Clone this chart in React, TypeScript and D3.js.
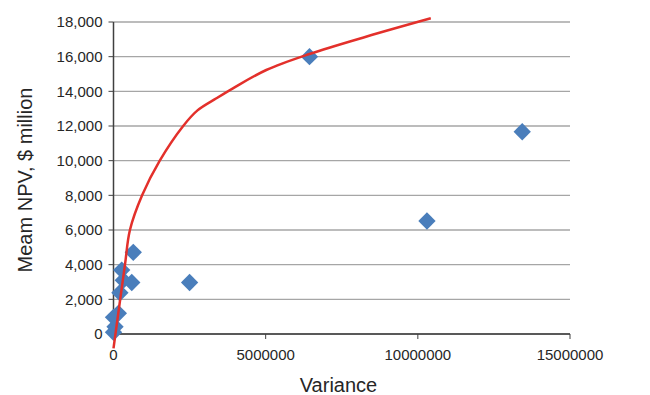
import React from "react";
import * as d3 from "d3";

const pointVariance = [0, 50000, 0, 160000, 210000, 320000, 600000, 270000, 650000, 2500000, 6440000, 10300000, 13430000];
const pointNpv = [100, 420, 960, 1190, 2380, 3100, 2970, 3690, 4710, 2970, 16000, 6520, 11670];

const curveVariance = [0, 377000, 540000, 940000, 1520000, 2290000, 2760000, 3381000, 3925000, 5020000, 6438000, 8296000, 10426000];
const curveNpv = [-825, 4000, 6000, 8000, 10000, 12000, 12900, 13598, 14175, 15231, 16154, 17152, 18214];

const yTicks = [0, 2000, 4000, 6000, 8000, 10000, 12000, 14000, 16000, 18000];
const xTicks = [0, 5000000, 10000000, 15000000];

const W = 650;
const H = 395;
const left = 113.5;
const right = 570;
const top = 22;
const bottom = 334;

export default function App() {
  const x = d3.scaleLinear().domain([0, 15000000]).range([left, right]);
  const y = d3.scaleLinear().domain([0, 18000]).range([bottom, top]);
  const fmtY = d3.format(",");
  const fmtX = (v: number) => String(v);

  const curvePts = curveVariance.map((v, i) => [v, curveNpv[i]] as [number, number]);
  const line = d3
    .line<[number, number]>()
    .x((d) => x(d[0]))
    .y((d) => y(d[1]))
    .curve(d3.curveCatmullRom.alpha(0.5));

  const diamond = d3.symbol().type(d3.symbolSquare).size(150)();

  const font = "'Liberation Sans', Arial, sans-serif";

  return (
    <svg width={W} height={H} style={{ position: "absolute", left: 0, top: 0, background: "#fff" }} fontFamily={font}>
      {yTicks.map((t) => (
        <g key={"gy" + t}>
          {t > 0 && <line x1={left} x2={right} y1={y(t)} y2={y(t)} stroke="#a6a6a6" strokeWidth={1.3} />}
          <line x1={left - 5} x2={left} y1={y(t)} y2={y(t)} stroke="#404040" strokeWidth={1} />
          <text x={left - 11} y={y(t)} dy="0.35em" textAnchor="end" fontSize={15} fill="#262626">
            {fmtY(t)}
          </text>
        </g>
      ))}
      <line x1={left} x2={left} y1={top} y2={bottom} stroke="#404040" strokeWidth={1.5} />
      <line x1={left} x2={right} y1={bottom} y2={bottom} stroke="#222" strokeWidth={1.5} />
      {xTicks.map((t) => (
        <g key={"gx" + t}>
          <line x1={x(t)} x2={x(t)} y1={bottom} y2={bottom + 5} stroke="#404040" strokeWidth={1} />
          <text x={x(t)} y={360} textAnchor="middle" fontSize={15} fill="#262626">
            {fmtX(t)}
          </text>
        </g>
      ))}
      {pointVariance.map((v, i) => (
        <path
          key={"p" + i}
          d={diamond || ""}
          transform={`translate(${x(v)},${y(pointNpv[i])}) rotate(45)`}
          fill="#4a7ebb"
        />
      ))}
      <path d={line(curvePts) || ""} fill="none" stroke="#e3302b" strokeWidth={2.5} />
      <text x={338.5} y={392} textAnchor="middle" fontSize={20} fill="#262626">
        Variance
      </text>
      <text transform="translate(32,180) rotate(-90)" textAnchor="middle" fontSize={20} fill="#262626">
        Meam NPV, $ million
      </text>
    </svg>
  );
}
